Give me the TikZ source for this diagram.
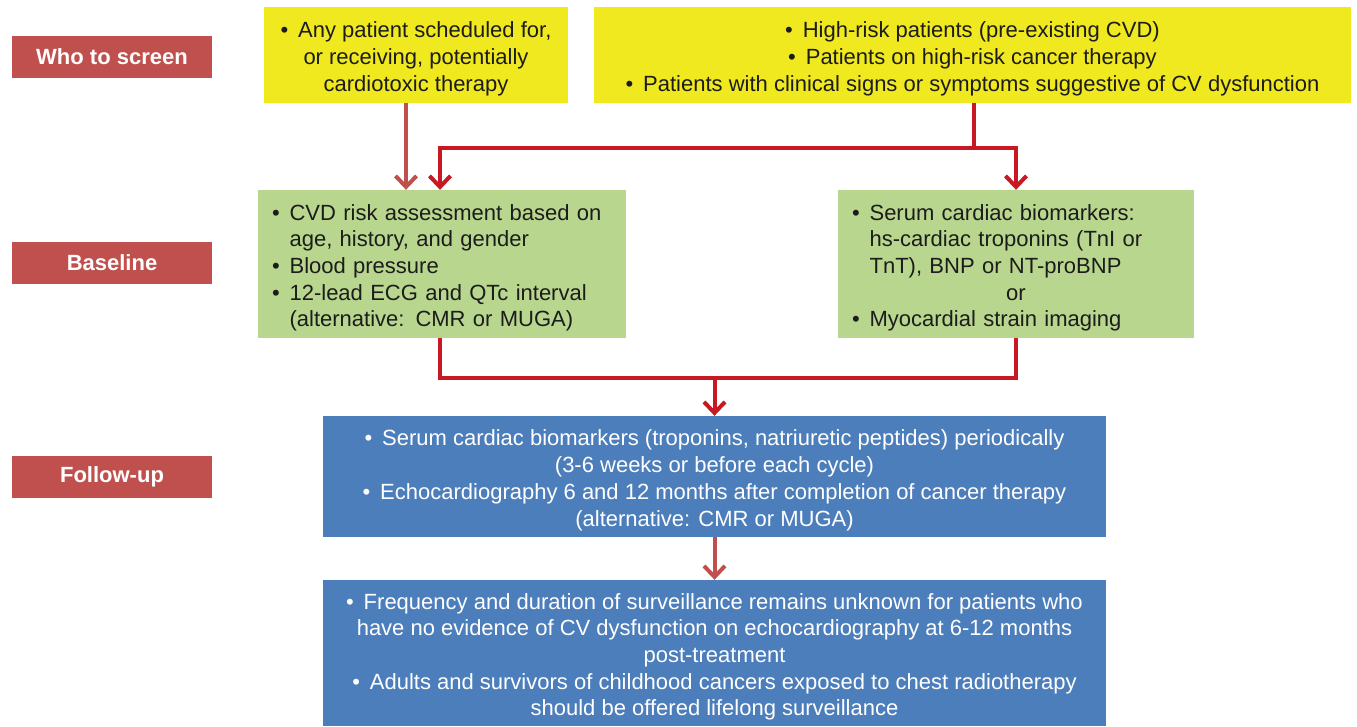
\documentclass[tikz,border=0pt]{standalone}
\usepackage{fontspec}
\setmainfont{Liberation Sans}
\usetikzlibrary{arrows.meta}
\definecolor{lblred}{RGB}{192,80,77}
\definecolor{ylw}{RGB}{240,233,32}
\definecolor{grn}{RGB}{184,214,141}
\definecolor{blu}{RGB}{76,126,187}
\definecolor{darr}{RGB}{200,25,35}
\definecolor{larr}{RGB}{192,80,77}
\definecolor{dtext}{RGB}{28,28,28}
\newcommand{\bul}{\textbullet\hspace{0.45em}}
\newcommand{\tstrut}{\rule{0pt}{23.5pt}}
\begin{document}
\begin{tikzpicture}[x=1pt,y=-1pt,
  txt/.style={font=\fontsize{22}{26.7}\selectfont},
  lbl/.style={fill=lblred, text=white, font=\fontsize{22}{26}\selectfont\bfseries,
    minimum width=200pt, minimum height=42pt, inner sep=0pt},
  ybox/.style={txt, fill=ylw, text=dtext, inner sep=0pt, align=center},
  gbox/.style={txt, fill=grn, text=dtext, inner xsep=14pt, inner ysep=0pt, align=left},
  bbox/.style={txt, fill=blu, text=white, inner sep=0pt, align=center},
  darkline/.style={draw=darr, line width=4pt, line join=miter},
  lightline/.style={draw=larr, line width=4pt, line join=miter},
  tip/.style={-{Straight Barb[length=11pt,width=21pt]}}
]
\useasboundingbox (0,0) rectangle (1357,726);

% side labels
\node[lbl] (who) at (112,56.5) {Who to screen};
\node[lbl] (base) at (112,263) {Baseline};
\node[lbl] (fu) at (112,477) {Follow-up};

% yellow boxes
\node[ybox, minimum width=304pt, minimum height=96pt] (y1) at (416,55)
  {\tstrut\bul Any patient scheduled for,\\ or receiving, potentially\\ cardiotoxic therapy};
\node[ybox, minimum width=757pt, minimum height=96pt] (y2) at (972.5,55)
  {\tstrut\bul High-risk patients (pre-existing CVD)\\
   \bul Patients on high-risk cancer therapy\\
   \bul Patients with clinical signs or symptoms suggestive of CV dysfunction};

% green boxes
\node[gbox, text width=340pt, minimum height=148pt] (g1) at (442,264)
  {\tstrut\bul CVD risk assessment based on\\
   \phantom{\bul}age, history, and gender\\
   \bul Blood pressure\\
   \bul 12-lead ECG and QTc interval\\
   \phantom{\bul}(alternative: CMR or MUGA)};
\node[gbox, text width=328pt, minimum height=148pt] (g2) at (1016,264)
  {\tstrut\bul Serum cardiac biomarkers:\\
   \phantom{\bul}hs-cardiac troponins (TnI or\\
   \phantom{\bul}TnT), BNP or NT-proBNP\\
   \makebox[\hsize]{or}\\
   \bul Myocardial strain imaging};

% blue boxes
\node[bbox, minimum width=783pt, minimum height=121pt] (b1) at (714.5,476.5)
  {\tstrut\bul Serum cardiac biomarkers (troponins, natriuretic peptides) periodically\\
   (3-6 weeks or before each cycle)\\
   \bul Echocardiography 6 and 12 months after completion of cancer therapy\\
   (alternative: CMR or MUGA)};
\node[bbox, minimum width=783pt, minimum height=146pt] (b2) at (714.5,653)
  {\tstrut\bul Frequency and duration of surveillance remains unknown for patients who\\
   have no evidence of CV dysfunction on echocardiography at 6-12 months\\
   post-treatment\\
   \bul Adults and survivors of childhood cancers exposed to chest radiotherapy\\
   should be offered lifelong surveillance};

% connectors
\draw[lightline, tip] ([xshift=-10pt]y1.south) -- ([xshift=-10pt]y1.south |- g1.north);
\draw[darkline] ([xshift=1.5pt]y2.south) -- ++(0,45) coordinate (j1);
\draw[darkline, tip] (j1) -| ([xshift=-2pt]g1.north);
\draw[darkline, tip] (j1) -| (g2.north);

\draw[darkline] ([xshift=-2pt]g1.south) -- ++(0,40) coordinate (j2) -| (g2.south);
\draw[darkline, tip] (j2 -| b1.north) -- (b1.north);

\draw[lightline, tip] (b1.south) -- (b2.north);
\end{tikzpicture}
\end{document}
